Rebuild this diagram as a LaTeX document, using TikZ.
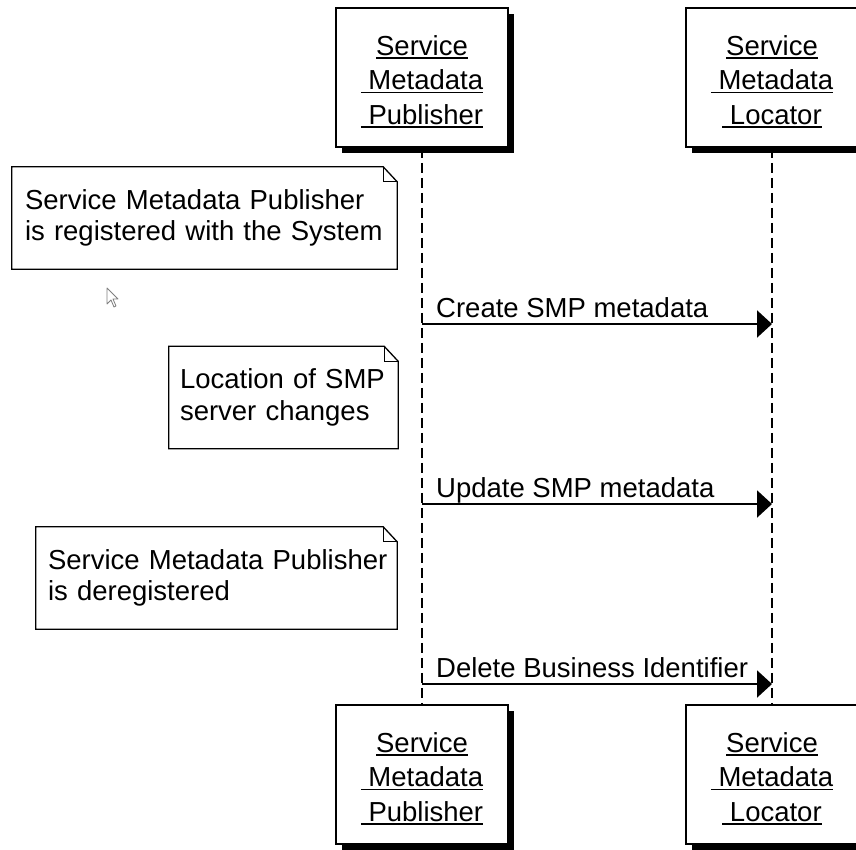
\documentclass[tikz,border=0pt]{standalone}
\usepackage{fontspec}
\setmainfont{Liberation Sans}
\usetikzlibrary{arrows.meta,shadows}
% underlined line of a box title
\newcommand\undl[1]{\setbox0\hbox{#1}\rlap{\rule[-3.5pt]{\wd0}{1.6pt}}\box0}
\tikzset{
  objbox/.style={draw, line width=1.8pt, fill=white, minimum width=172pt,
    minimum height=139pt, align=center, inner sep=0pt,
    font=\fontsize{27.5}{34.5}\selectfont,
    drop shadow={shadow xshift=6pt, shadow yshift=-6pt, fill=black, opacity=1}},
  notebox/.style={align=left, inner ysep=0pt, minimum height=102pt,
    font=\fontsize{27.5}{31.5}\selectfont,
    execute at begin node={\hfuzz=10pt}},
  lifeline/.style={line width=1.4pt, dash pattern=on 10pt off 5pt},
  msg/.style={line width=2pt, -{Triangle[length=15pt,width=27pt]}},
  msglabel/.style={anchor=base west, inner sep=0pt, font=\fontsize{27.5}{32}\selectfont},
}
\begin{document}
\begin{tikzpicture}[x=1pt,y=-1pt]
    \fill[white] (0,0) rectangle (856,850);
    \useasboundingbox (0,0) rectangle (856,850);

    % objects
    \node[objbox] (smpTop) at (422,77.5) {\rule{0pt}{28pt}\undl{Service}\\\undl{\ Metadata}\\\undl{\ Publisher}};
    \node[objbox] (smlTop) at (772,77.5) {\rule{0pt}{28pt}\undl{Service}\\\undl{\ Metadata}\\\undl{\ Locator}};
    \node[objbox] (smpBot) at (422,774.5) {\rule{0pt}{28pt}\undl{Service}\\\undl{\ Metadata}\\\undl{\ Publisher}};
    \node[objbox] (smlBot) at (772,774.5) {\rule{0pt}{28pt}\undl{Service}\\\undl{\ Metadata}\\\undl{\ Locator}};

    \draw[lifeline] (smpTop.south) -- (smpBot.north);
    \draw[lifeline] (smlTop.south) -- (smlBot.north);

    % notes
    \node[notebox, inner xsep=13pt, text width=359pt] (noteReg) at (204.5,218) {\mbox{Service Metadata Publisher}\\\mbox{is registered with the System}};
    \node[notebox, inner xsep=11pt, text width=207pt] (noteLoc) at (283.5,397.5) {\mbox{Location of SMP}\\\mbox{server changes}};
    \node[notebox, inner xsep=12pt, text width=337pt] (noteDereg) at (216.5,578) {\mbox{Service Metadata Publisher}\\\mbox{is deregistered}};
    \foreach \n in {noteReg,noteLoc,noteDereg} {
        \draw[line width=1.3pt] (\n.north west) -- ([xshift=-14pt]\n.north east) -- ([yshift=-15pt]\n.north east) -- (\n.south east) -- (\n.south west) -- cycle;
        \draw[line width=1.3pt] ([xshift=-14pt]\n.north east) |- ([yshift=-15pt]\n.north east);
    }

    % messages
    \coordinate (createFrom) at (422,324);
    \coordinate (createTo) at (772,324);
    \coordinate (updateFrom) at (422,504);
    \coordinate (updateTo) at (772,504);
    \coordinate (deleteFrom) at (422,684);
    \coordinate (deleteTo) at (772,684);
    \draw[msg] (createFrom) -- (createTo);
    \draw[msg] (updateFrom) -- (updateTo);
    \draw[msg] (deleteFrom) -- (deleteTo);
    \node[msglabel] (createLbl) at ([xshift=14pt,yshift=7pt]createFrom) {Create SMP metadata};
    \node[msglabel] (updateLbl) at ([xshift=14pt,yshift=7pt]updateFrom) {Update SMP metadata};
    \node[msglabel] (deleteLbl) at ([xshift=14pt,yshift=7pt]deleteFrom) {Delete Business Identifier};

    % mouse pointer
    \draw[gray, fill=white, line width=0.8pt, line join=round] (107,288) -- ++(0,16) -- ++(4,-4) -- ++(3,7) -- ++(2,-1) -- ++(-3,-7) -- ++(5,0) -- cycle;
\end{tikzpicture}
\end{document}
